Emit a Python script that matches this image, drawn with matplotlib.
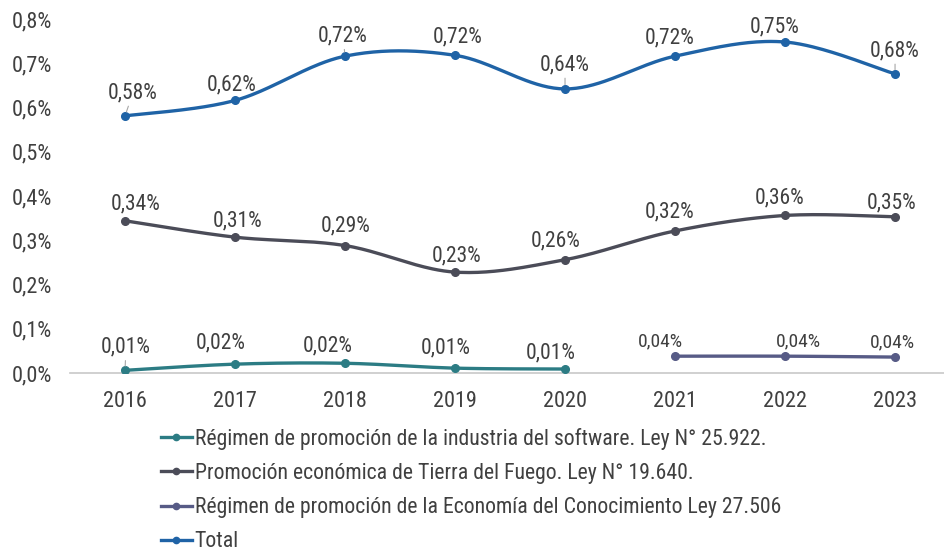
import numpy as np
import matplotlib
matplotlib.use('Agg')
import matplotlib.pyplot as plt
from matplotlib.lines import Line2D

plt.rcParams['font.family'] = ['Roboto Condensed', 'Roboto', 'DejaVu Sans']

# Datos (% del PIB)
anios = ['2016', '2017', '2018', '2019', '2020', '2021', '2022', '2023']
software = [0.006, 0.020, 0.022, 0.011, 0.009]            # 2016-2020
tierra_fuego = [0.344, 0.307, 0.288, 0.228, 0.256, 0.321, 0.356, 0.353]
conocimiento = [0.038, 0.038, 0.036]                       # 2021-2023
total = [0.581, 0.616, 0.716, 0.718, 0.642, 0.716, 0.748, 0.676]

nombres = ['Régimen de promoción de la industria del software. Ley N° 25.922.',
           'Promoción económica de Tierra del Fuego. Ley N° 19.640.',
           'Régimen de promoción de la Economía del Conocimiento Ley 27.506',
           'Total']
colores = ['#2C7C84', '#4B4C58', '#575B86', '#1F63A6']
gris_texto = '#404040'

# desplazamiento de las etiquetas (px) respecto de cada punto
off_software = [(1, 23), (-14, 21), (-17, 17), (-9, 20), (-14, 16)]
off_tierra = [(11, 17), (3, 16), (1, 20), (2, 16), (-9, 19), (-5, 19), (-5, 18), (-3, 14)]
off_conoc = [(-15, 15), (13, 15), (-3, 15)]
off_total = [(8, 23), (-3, 15), (-2, 20), (3, 18), (0, 24), (-5, 18), (-10, 15), (0, 23)]
guia_software = [True, False, False, False, False]
guia_tierra = [False] * 8
guia_conoc = [False] * 3
guia_total = [True, False, True, False, True, False, False, True]


def suavizar(x, y, n=40):
    # curva tipo Excel: Bezier cubica con puntos de control de Catmull-Rom
    p = np.column_stack([x, y]).astype(float)
    xs, ys = [], []
    for i in range(len(p) - 1):
        p0 = p[max(i - 1, 0)]
        p1 = p[i]
        p2 = p[i + 1]
        p3 = p[min(i + 2, len(p) - 1)]
        c1 = p1 + (p2 - p0) / 6
        c2 = p2 - (p3 - p1) / 6
        t = np.linspace(0, 1, n)[:, None]
        b = ((1 - t) ** 3) * p1 + 3 * ((1 - t) ** 2) * t * c1 + 3 * (1 - t) * t ** 2 * c2 + t ** 3 * p2
        xs.extend(b[:, 0])
        ys.extend(b[:, 1])
    return np.array(xs), np.array(ys)


fig = plt.figure(figsize=(9.44, 5.52), dpi=100)
ax = fig.add_axes([70 / 944, 179 / 552, 874 / 944, 354 / 552])

series = [
    (np.arange(0, 5), software, off_software, guia_software, 15.5),
    (np.arange(0, 8), tierra_fuego, off_tierra, guia_tierra, 15.5),
    (np.arange(5, 8), conocimiento, off_conoc, guia_conoc, 14),
    (np.arange(0, 8), total, off_total, guia_total, 15.5),
]

for (x, y, offs, guias, fs), color in zip(series, colores):
    sx, sy = suavizar(x, y)
    ax.plot(sx, sy, color=color, lw=2.4, solid_capstyle='round', zorder=3)
    ax.plot(x, y, 'o', color=color, ms=5.5, zorder=4)
    for xi, yi, (dx, dy), g in zip(x, y, offs, guias):
        etiqueta = f'{yi:.2f}%'.replace('.', ',')
        ax.annotate(etiqueta, (xi, yi), xytext=(dx, dy), textcoords='offset pixels',
                    ha='center', va='center', fontsize=fs, color=gris_texto, zorder=5,
                    arrowprops=dict(arrowstyle='-', color='#A6A6A6', lw=0.8,
                                    shrinkA=8, shrinkB=3) if g else None)

ax.set_xlim(-0.5, 7.445)
ax.set_ylim(0, 0.8)
ax.set_xticks(range(len(anios)))
ax.set_xticklabels(anios)
ax.set_yticks(np.arange(0, 0.81, 0.1))
ax.set_yticklabels([f'{v:.1f}%'.replace('.', ',') for v in np.arange(0, 0.81, 0.1)])
ax.tick_params(axis='both', length=0, labelsize=16, colors=gris_texto)
ax.tick_params(axis='y', pad=13)
ax.tick_params(axis='x', pad=13)
for lado in ['top', 'right', 'left']:
    ax.spines[lado].set_visible(False)
ax.spines['bottom'].set_color('#C8C8C8')
ax.spines['bottom'].set_linewidth(1.2)
ax.set_facecolor('none')

handles = [Line2D([], [], color=c, lw=2.4, marker='o', ms=4.5) for c in colores]
leg = fig.legend(handles, nombres, loc='upper left', bbox_to_anchor=(161 / 944, 1 - 428 / 552),
                 frameon=False, fontsize=15.7, handlelength=1.4, handletextpad=0.15,
                 labelspacing=0.6, borderaxespad=0, borderpad=0)
for t in leg.get_texts():
    t.set_color(gris_texto)

fig.savefig('out.png', dpi=100)
